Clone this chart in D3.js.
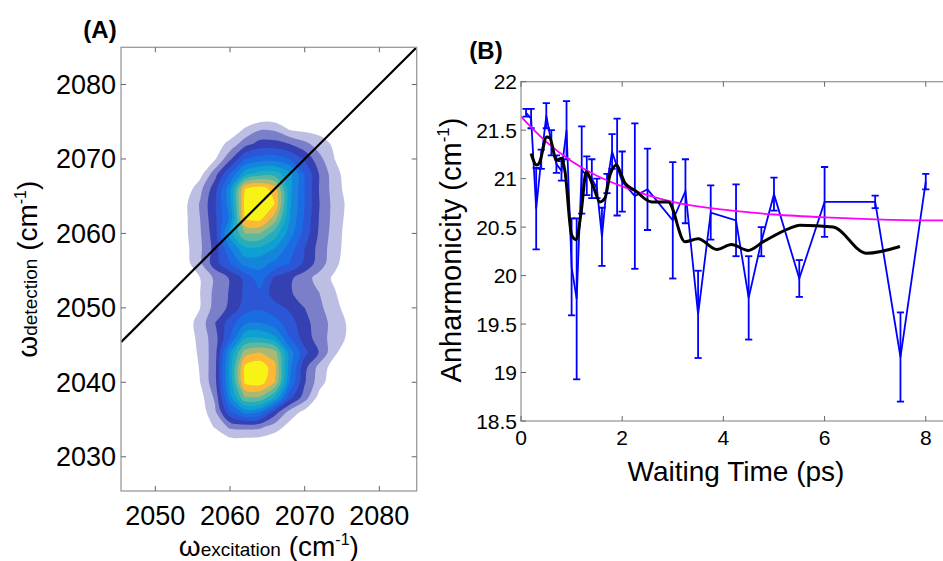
<!DOCTYPE html>
<html><head><meta charset="utf-8">
<script src="https://cdn.jsdelivr.net/npm/d3@7"></script>
<style>
body{margin:0;background:#fff}
svg{display:block}
text{font-family:"Liberation Sans",Arial,Helvetica,sans-serif;fill:#000}
</style>
</head><body>
<svg id="c" width="943" height="561"></svg>
<script>
// ---------------- Panel A data (2D IR spectrum, contour levels) ----------------
const excitationGrid = [2052,2054,2056,2058,2060,2062,2064,2066,2068,2070,2072,2074,2076,2078];
const detectionGrid = [2076,2074,2072,2070,2068,2066,2064,2062,2060,2058,2056,2054,2052,2050,2048,2046,2044,2042,2040,2038,2036,2034,2032,2030];
const spectrum = [
  [0,0,0,0,0,0,0,0,0,0,0,0,0,0],
  [0,0,0,0,0.3,1.1,1.9,1.8,0.9,0.7,0.6,0,0,0],
  [0,0,0,0.5,1.3,2.6,3.4,3.4,3.0,2.3,1.5,0.8,0,0],
  [0,0,0,0.9,2.8,5.0,5.5,5.6,5.0,3.8,2.3,1.0,0.2,0],
  [0,0,0.6,2.6,5.0,7.6,8.5,8.5,7.3,5.0,2.9,1.4,0.4,0],
  [0,0.3,1.7,3.6,6.7,12.0,12.6,11.5,7.3,5.0,2.9,1.5,0.5,0],
  [0,0.8,2.1,3.9,6.6,12.4,13.0,12.0,7.2,5.0,3.0,1.6,0.7,0],
  [0,0.8,2.0,3.8,6.2,12.1,12.3,10.5,7.0,4.8,2.9,1.6,0.6,0],
  [0,0.8,1.9,3.6,7.5,10.0,10.0,8.5,6.5,4.6,2.8,1.5,0.5,0],
  [0,0.7,1.8,3.4,6.0,7.8,7.8,7.0,5.5,4.0,2.6,1.4,0.5,0],
  [0,0.6,1.8,3.6,5.0,6.4,6.3,5.8,5.0,3.8,2.5,1.3,0.3,0],
  [0,0.3,1.0,2.2,3.1,4.3,5.6,3.8,3.2,2.4,1.6,0.8,0,0],
  [0,0.3,1.0,2.3,3.1,4.2,4.8,3.5,3.1,2.6,2.0,1.1,0.2,0],
  [0,0.3,1.0,2.4,3.2,4.5,4.8,4.4,3.8,3.0,2.2,1.4,0.4,0],
  [0,0.5,1.4,3.0,4.5,5.8,6.0,5.4,4.5,3.3,2.5,1.6,0.8,0],
  [0,0.4,1.3,2.6,5.0,7.8,8.0,7.2,5.0,3.5,2.5,1.5,0.8,0],
  [0,0.3,1.2,2.6,7.0,10.5,11.0,10.5,6.5,4.3,2.9,1.2,0.2,0],
  [0,0,1.1,2.7,7.5,12.3,12.8,11.3,6.3,3.3,1.6,0.5,0,0],
  [0,0,1.0,2.7,7.3,12.2,12.5,11.0,6.0,3.1,1.4,0.3,0,0],
  [0,0,0.6,2.2,6.6,10.0,10.0,8.0,4.4,2.5,0.6,0,0,0],
  [0,0,0.4,1.8,4.8,6.4,6.0,3.5,1.6,0.7,0,0,0,0],
  [0,0,0.1,1.1,2.2,2.3,2.2,1.5,0.6,0,0,0,0,0],
  [0,0,0,0,0.5,0.5,0.4,0.2,0,0,0,0,0,0],
  [0,0,0,0,0,0,0,0,0,0,0,0,0,0]
];
const contourLevels = [1,2,3,4,5,6,7,8,9,10,11,12];
const levelColors = ["#bcbee3","#7b7fc9","#3541b3","#2b56d6","#1a6ce2","#1585db","#0ea0d2","#26adbb","#5cb8a0","#a9b973","#fbb935","#f7f316"];
const aTicksX = [2050,2060,2070,2080];
const aTicksY = [2030,2040,2050,2060,2070,2080];
const diagonal = [2045.4, 2085];

// ---------------- Panel B data ----------------
const waitTime = [0.1,0.2,0.3,0.4,0.5,0.6,0.7,0.8,0.9,1.0,1.1,1.2,1.3,1.4,1.5,1.6,1.7,1.8,1.9,2.0,2.25,2.5,3.0,3.25,3.5,3.75,4.25,4.5,4.75,5.0,5.5,6.0,7.0,7.5,8.0];
const anharm =   [21.68,21.62,20.69,21.2,21.65,21.37,21.15,21.08,21.5,20.09,19.76,21.09,21.03,21.0,20.9,20.4,20.95,21.28,21.12,20.97,20.82,20.89,20.57,20.87,19.6,20.65,20.57,19.77,20.35,20.84,19.97,20.76,20.76,19.16,20.97];
const anharmErr = [0.04,0.1,0.42,0.1,0.13,0.13,0.09,0.1,0.3,0.5,0.83,0.45,0.2,0.2,0.1,0.3,0.1,0.18,0.5,0.31,0.75,0.42,0.6,0.33,0.45,0.28,0.37,0.43,0.15,0.17,0.19,0.36,0.065,0.46,0.08];
const avgTime = [0.2,0.31,0.36,0.51,0.57,0.70,0.80,0.87,1.0,1.09,1.19,1.29,1.42,1.56,1.66,1.76,1.89,1.96,2.06,2.25,2.58,2.85,2.91,3.24,3.50,3.87,4.16,4.49,4.79,5.32,5.51,6.17,6.83,7.49];
const avgAnharm = [21.26,21.14,21.16,21.43,21.42,21.19,21.21,21.07,20.42,20.37,20.66,21.07,20.93,20.76,20.8,21.04,21.14,21.07,20.95,20.88,20.76,20.76,20.76,20.35,20.38,20.27,20.32,20.26,20.35,20.49,20.52,20.5,20.23,20.30];
const fitTime = [0,0.5,1,1.5,2,2.5,3,4,5,6,7,8,8.4];
const fitAnharm = [21.64,21.38,21.18,21.03,20.92,20.83,20.76,20.68,20.63,20.60,20.58,20.57,20.57];
const bTicksX = [0,2,4,6,8];
const bTicksY = [18.5,19,19.5,20,20.5,21,21.5,22];

const svg = d3.select("#c");
svg.append("rect").attr("width",943).attr("height",561).attr("fill","#fff");
const axisGray = "#9a9a9a";

// ================= Panel A =================
const A = {l:121, t:47.3, r:416.7, b:491};
const xA = d3.scaleLinear().domain([2045.4, 2085]).range([A.l, A.r]);
const yA = d3.scaleLinear().domain([2025.4, 2085]).range([A.b, A.t]);

svg.append("clipPath").attr("id","clipA").append("rect")
  .attr("x",A.l).attr("y",A.t).attr("width",A.r-A.l).attr("height",A.b-A.t);
const gA = svg.append("g").attr("clip-path","url(#clipA)");

const nx = excitationGrid.length, ny = detectionGrid.length;
const stepX = excitationGrid[1]-excitationGrid[0];
const stepY = detectionGrid[1]-detectionGrid[0];
const contours = d3.contours().size([nx, ny]).thresholds(contourLevels)(spectrum.flat());
const ringLine = d3.line()
  .x(p => xA(excitationGrid[0] + (p[0]-0.5)*stepX))
  .y(p => yA(detectionGrid[0] + (p[1]-0.5)*stepY))
  .curve(d3.curveCatmullRomClosed.alpha(0.5));
contours.forEach((c, i) => {
  let d = "";
  c.coordinates.forEach(poly => poly.forEach(ring => {
    d += ringLine(ring.slice(0, -1));
  }));
  if (d) gA.append("path").attr("d", d).attr("fill", levelColors[i]).attr("stroke", "none");
});
gA.append("line")
  .attr("x1", xA(diagonal[0])).attr("y1", yA(diagonal[0]))
  .attr("x2", xA(diagonal[1])).attr("y2", yA(diagonal[1]))
  .attr("stroke","#000").attr("stroke-width",2.2);

// box & ticks
svg.append("rect").attr("x",A.l).attr("y",A.t).attr("width",A.r-A.l).attr("height",A.b-A.t)
  .attr("fill","none").attr("stroke",axisGray).attr("stroke-width",1.3);
const tickLen = 5;
aTicksX.forEach(v => {
  const x = xA(v);
  svg.append("line").attr("x1",x).attr("x2",x).attr("y1",A.b).attr("y2",A.b-tickLen).attr("stroke","#666");
  svg.append("line").attr("x1",x).attr("x2",x).attr("y1",A.t).attr("y2",A.t+tickLen).attr("stroke","#666");
  svg.append("text").attr("x",x).attr("y",525).attr("text-anchor","middle").attr("font-size",27).text(v);
});
aTicksY.forEach(v => {
  const y = yA(v);
  svg.append("line").attr("x1",A.l).attr("x2",A.l+tickLen).attr("y1",y).attr("y2",y).attr("stroke","#666");
  svg.append("line").attr("x1",A.r).attr("x2",A.r-tickLen).attr("y1",y).attr("y2",y).attr("stroke","#666");
  svg.append("text").attr("x",A.l-5).attr("y",y+9.5).attr("text-anchor","end").attr("font-size",27).text(v);
});
// axis titles A
const xtA = svg.append("text").attr("x",(A.l+A.r)/2).attr("y",556).attr("text-anchor","middle").attr("font-size",28);
xtA.append("tspan").text("ω");
xtA.append("tspan").attr("font-size",19).text("excitation");
xtA.append("tspan").text(" (cm");
xtA.append("tspan").attr("font-size",16).attr("dy",-11).text("-1");
xtA.append("tspan").attr("dy",11).text(")");

const ytA = svg.append("text").attr("transform",`translate(37,${(A.t+A.b)/2}) rotate(-90)`)
  .attr("text-anchor","middle").attr("font-size",28);
ytA.append("tspan").text("ω");
ytA.append("tspan").attr("font-size",19).text("detection");
ytA.append("tspan").text(" (cm");
ytA.append("tspan").attr("font-size",16).attr("dy",-11).text("-1");
ytA.append("tspan").attr("dy",11).text(")");

svg.append("text").attr("x",100).attr("y",38).attr("text-anchor","middle")
  .attr("font-size",24).attr("font-weight","bold").text("(A)");

// ================= Panel B =================
const B = {l:521, t:81.7, r:946, b:421};
const xB = d3.scaleLinear().domain([0, 8.4]).range([B.l, B.r]);
const yB = d3.scaleLinear().domain([18.5, 22]).range([B.b, B.t]);

svg.append("clipPath").attr("id","clipB").append("rect")
  .attr("x",B.l).attr("y",B.t).attr("width",B.r-B.l).attr("height",B.b-B.t);
const gB = svg.append("g").attr("clip-path","url(#clipB)");

const blue = "#0000ff";
const cap = 3.6;
waitTime.forEach((t, i) => {
  const x = xB(t), y1 = yB(anharm[i]-anharmErr[i]), y2 = yB(anharm[i]+anharmErr[i]);
  gB.append("line").attr("x1",x).attr("x2",x).attr("y1",y1).attr("y2",y2).attr("stroke",blue).attr("stroke-width",1.8);
  gB.append("line").attr("x1",x-cap).attr("x2",x+cap).attr("y1",y1).attr("y2",y1).attr("stroke",blue).attr("stroke-width",1.8);
  gB.append("line").attr("x1",x-cap).attr("x2",x+cap).attr("y1",y2).attr("y2",y2).attr("stroke",blue).attr("stroke-width",1.8);
});
gB.append("path").datum(waitTime.map((t,i)=>[t, anharm[i]]))
  .attr("d", d3.line().x(d=>xB(d[0])).y(d=>yB(d[1])))
  .attr("fill","none").attr("stroke",blue).attr("stroke-width",1.8);

gB.append("path").datum(fitTime.map((t,i)=>[t, fitAnharm[i]]))
  .attr("d", d3.line().x(d=>xB(d[0])).y(d=>yB(d[1])).curve(d3.curveMonotoneX))
  .attr("fill","none").attr("stroke","#ff00ff").attr("stroke-width",1.8);

gB.append("path").datum(avgTime.map((t,i)=>[t, avgAnharm[i]]))
  .attr("d", d3.line().x(d=>xB(d[0])).y(d=>yB(d[1])).curve(d3.curveMonotoneX))
  .attr("fill","none").attr("stroke","#000").attr("stroke-width",3).attr("stroke-linejoin","round");

svg.append("rect").attr("x",B.l).attr("y",B.t).attr("width",B.r-B.l).attr("height",B.b-B.t)
  .attr("fill","none").attr("stroke",axisGray).attr("stroke-width",1.3);
bTicksX.forEach(v => {
  const x = xB(v);
  svg.append("line").attr("x1",x).attr("x2",x).attr("y1",B.b).attr("y2",B.b-tickLen).attr("stroke","#666");
  svg.append("line").attr("x1",x).attr("x2",x).attr("y1",B.t).attr("y2",B.t+tickLen).attr("stroke","#666");
  svg.append("text").attr("x",x).attr("y",445).attr("text-anchor","middle").attr("font-size",21).text(v);
});
bTicksY.forEach(v => {
  const y = yB(v);
  svg.append("line").attr("x1",B.l).attr("x2",B.l+tickLen).attr("y1",y).attr("y2",y).attr("stroke","#666");
  svg.append("text").attr("x",B.l-4).attr("y",y+7.5).attr("text-anchor","end").attr("font-size",21).text(v);
});
svg.append("text").attr("x",736).attr("y",481).attr("text-anchor","middle").attr("font-size",28).text("Waiting Time (ps)");
const ytB = svg.append("text").attr("transform",`translate(461,250) rotate(-90)`)
  .attr("text-anchor","middle").attr("font-size",29);
ytB.append("tspan").text("Anharmonicity (cm");
ytB.append("tspan").attr("font-size",17).attr("dy",-12).text("-1");
ytB.append("tspan").attr("dy",12).text(")");

svg.append("text").attr("x",486).attr("y",59).attr("text-anchor","middle")
  .attr("font-size",24).attr("font-weight","bold").text("(B)");
</script>
</body></html>
